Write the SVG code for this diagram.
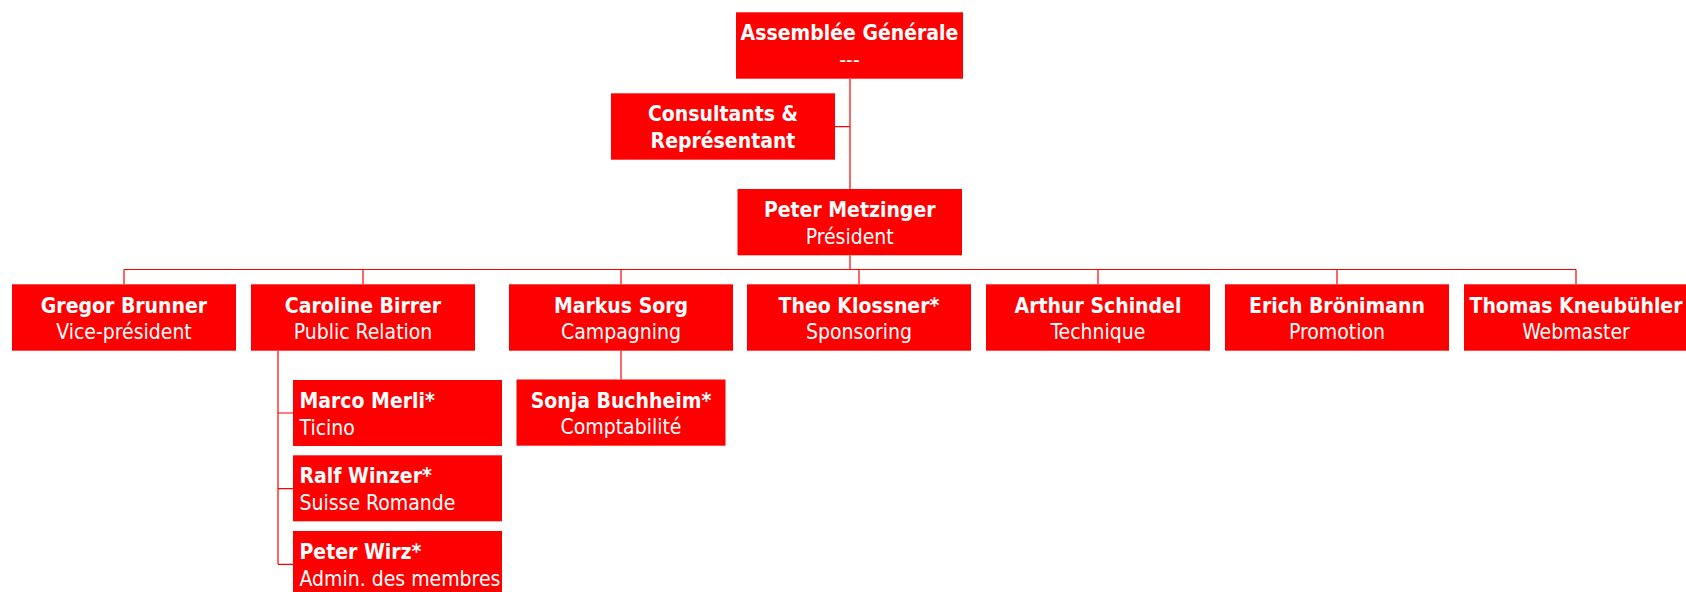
<svg xmlns="http://www.w3.org/2000/svg" width="1686" height="592" viewBox="0 0 1686 592">
<style>
.box{fill:#ff0000}
.t{font-family:"DejaVu Sans Condensed","Liberation Sans",sans-serif;font-size:21px;fill:#ffffff}
.c{text-anchor:middle}
.b{font-weight:bold}
.ln{stroke:#ff0000;stroke-width:1.2;fill:none}
</style>
<rect width="1686" height="592" fill="#ffffff"/>
<g id="connectors" class="ln">
<path d="M850 79V189M835 126.7H850M850 255.3V269.5"/>
<path d="M124 269.5H1576"/>
<path d="M124 269.5V284.3M363 269.5V284.3M621 269.5V284.3M859 269.5V284.3M1098 269.5V284.3M1337 269.5V284.3M1576 269.5V284.3"/>
<path d="M278 350.7V564.3M278 413H293M278 488.7H293M278 564.3H293"/>
<path d="M621 350.7V379.5"/>
</g>
<g id="assemblee">
<rect class="box" x="736" y="12.3" width="227" height="66.4"/>
<text class="t c b" x="849.5" y="40.3">Assemblée Générale</text>
<text class="t c" x="849.5" y="67">---</text>
</g>
<g id="consultants">
<rect class="box" x="611" y="93.3" width="224" height="66.4"/>
<text class="t c b" x="723" y="121">Consultants &amp;</text>
<text class="t c b" x="723" y="148">Représentant</text>
</g>
<g id="president">
<rect class="box" x="737.5" y="189" width="224.5" height="66.3"/>
<text class="t c b" x="849.7" y="217">Peter Metzinger</text>
<text class="t c" x="849.7" y="243.7">Président</text>
</g>
<g id="brunner">
<rect class="box" x="12" y="284.3" width="224" height="66.4"/>
<text class="t c b" x="124" y="312.7">Gregor Brunner</text>
<text class="t c" x="124" y="339.3">Vice-président</text>
</g>
<g id="birrer">
<rect class="box" x="251" y="284.3" width="224" height="66.4"/>
<text class="t c b" x="363" y="312.7">Caroline Birrer</text>
<text class="t c" x="363" y="339.3">Public Relation</text>
</g>
<g id="sorg">
<rect class="box" x="509" y="284.3" width="224" height="66.4"/>
<text class="t c b" x="621" y="312.7">Markus Sorg</text>
<text class="t c" x="621" y="339.3">Campagning</text>
</g>
<g id="klossner">
<rect class="box" x="747" y="284.3" width="224" height="66.4"/>
<text class="t c b" x="859" y="312.7">Theo Klossner*</text>
<text class="t c" x="859" y="339.3">Sponsoring</text>
</g>
<g id="schindel">
<rect class="box" x="986" y="284.3" width="224" height="66.4"/>
<text class="t c b" x="1098" y="312.7">Arthur Schindel</text>
<text class="t c" x="1098" y="339.3">Technique</text>
</g>
<g id="bronimann">
<rect class="box" x="1225" y="284.3" width="224" height="66.4"/>
<text class="t c b" x="1337" y="312.7">Erich Brönimann</text>
<text class="t c" x="1337" y="339.3">Promotion</text>
</g>
<g id="kneubuhler">
<rect class="box" x="1464" y="284.3" width="224" height="66.4"/>
<text class="t c b" x="1576" y="312.7">Thomas Kneubühler</text>
<text class="t c" x="1576" y="339.3">Webmaster</text>
</g>
<g id="merli">
<rect class="box" x="293" y="380" width="209" height="66"/>
<text class="t b" x="299.5" y="408">Marco Merli*</text>
<text class="t" x="299.5" y="434.7">Ticino</text>
</g>
<g id="winzer">
<rect class="box" x="293" y="455.3" width="209" height="66"/>
<text class="t b" x="299.5" y="483.3">Ralf Winzer*</text>
<text class="t" x="299.5" y="510">Suisse Romande</text>
</g>
<g id="wirz">
<rect class="box" x="293" y="531" width="209" height="66"/>
<text class="t b" x="299.5" y="559">Peter Wirz*</text>
<text class="t" x="299.5" y="585.7">Admin. des membres</text>
</g>
<g id="buchheim">
<rect class="box" x="516.5" y="379.5" width="209" height="66.2"/>
<text class="t c b" x="621" y="407.5">Sonja Buchheim*</text>
<text class="t c" x="621" y="434.2">Comptabilité</text>
</g>
</svg>
